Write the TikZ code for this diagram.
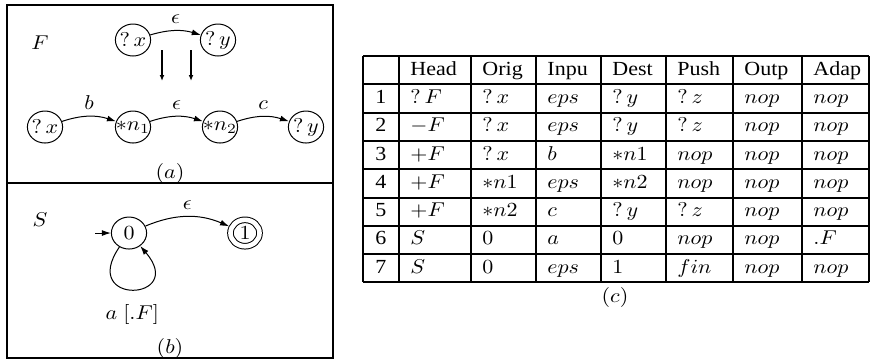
\documentclass[tikz,border=0pt]{standalone}
\usepackage{fontspec}
\newfontfamily\tabfont{Liberation Serif}
\usetikzlibrary{arrows.meta}
\tikzset{
  st/.style={draw, circle, minimum size=16pt, inner sep=0pt, line width=0.5pt},
  nst/.style={st, inner sep=-2pt},
  acc/.style={st, double, double distance=2.3pt, minimum size=13.2pt, outer sep=1.4pt},
  tr/.style={-{Latex[length=4.5pt,width=3pt]}, line width=0.5pt},
  down/.style={-{Latex[length=3pt,width=2.4pt]}, line width=1pt},
  box/.style={line width=1pt},
  cell/.style={anchor=base west, inner sep=0pt, font=\tabfont},
}
\begin{document}
\begin{tikzpicture}[x=0.4545pt,y=-0.5pt,xscale=1.1,every node/.append style={transform shape}]
\useasboundingbox (0,0) rectangle (870,361);
% frames of (a) and (b)
\draw[box] (7,5) rectangle (333,358);
\draw[box] (7,183) -- (333,183);
% (a)
\node (fname) at (40,43) {$F$};
\node[st] (tx) at (133,40) {$?\,x$};
\node[st] (ty) at (218,40) {$?\,y$};
\draw[tr] (tx) to[bend left=18] node[above] (teps) {$\epsilon$} (ty);
\coordinate (dla) at (162,50);
\coordinate (dlb) at (162,81);
\coordinate (dra) at (191,50);
\coordinate (drb) at (191,81);
\draw[down] (dla) -- (dlb);
\draw[down] (dra) -- (drb);
\node[st] (bx) at (45,127) {$?\,x$};
\node[nst] (bn1) at (133,127) {$*n_1$};
\node[nst] (bn2) at (220,127) {$*n_2$};
\node[st] (by) at (306,127) {$?\,y$};
\draw[tr] (bx) to[bend left=20] node[above] (lb) {$b$} (bn1);
\draw[tr] (bn1) to[bend left=20] node[above] (leps) {$\epsilon$} (bn2);
\draw[tr] (bn2) to[bend left=20] node[above] (lc) {$c$} (by);
\node (capa) at (170,173) {$(a)$};
% (b)
\node (sname) at (40,220) {$S$};
\node[st] (s0) at (129,233) {$0$};
\node[acc] (s1) at (245,233) {$1$};
\coordinate (init) at (95,233);
\draw[tr] (init) -- (s0);
\draw[tr] (s0) to[bend left=25] node[above] (seps) {$\epsilon$} (s1);
\draw[tr] (s0) to[out=238,in=308,distance=35pt] node[below=4pt] (sa) {$a\;[.F]$} (s0);
\node (capb) at (170,348) {$(b)$};
% (c) table
\foreach \x in {363,399,471,536,601,666,733,802,869}
  \draw[box] (\x,56) -- (\x,282.4);
\foreach \i in {0,...,8}
  \draw[box] (363,56+28.3*\i) -- (869,56+28.3*\i);
\foreach \x/\t [count=\c] in {399/Head,471/Orig,536/Inpu,601/Dest,666/Push,733/Outp,802/Adap}
  \node[cell] (h\c) at (\x+11,75.15) {\t};
\foreach \h/\o/\i/\d/\p/\u/\a [count=\r] in {
    ?\,F/?\,x/eps/?\,y/?\,z/nop/nop,
    -F/?\,x/eps/?\,y/?\,z/nop/nop,
    +F/?\,x/b/*n1/nop/nop/nop,
    +F/*n1/eps/*n2/nop/nop/nop,
    +F/*n2/c/?\,y/?\,z/nop/nop,
    S/0/a/0/nop/nop/.F,
    S/0/eps/1/fin/nop/nop}{
  \node[cell] (r\r-0) at (375,75.15+28.3*\r) {\r};
  \node[cell] (r\r-1) at (410,75.15+28.3*\r) {$\h$};
  \node[cell] (r\r-2) at (482,75.15+28.3*\r) {$\o$};
  \node[cell] (r\r-3) at (547,75.15+28.3*\r) {$\i$};
  \node[cell] (r\r-4) at (612,75.15+28.3*\r) {$\d$};
  \node[cell] (r\r-5) at (677,75.15+28.3*\r) {$\p$};
  \node[cell] (r\r-6) at (744,75.15+28.3*\r) {$\u$};
  \node[cell] (r\r-7) at (813,75.15+28.3*\r) {$\a$};
}
\node (capc) at (615,297) {$(c)$};
\end{tikzpicture}
\end{document}
